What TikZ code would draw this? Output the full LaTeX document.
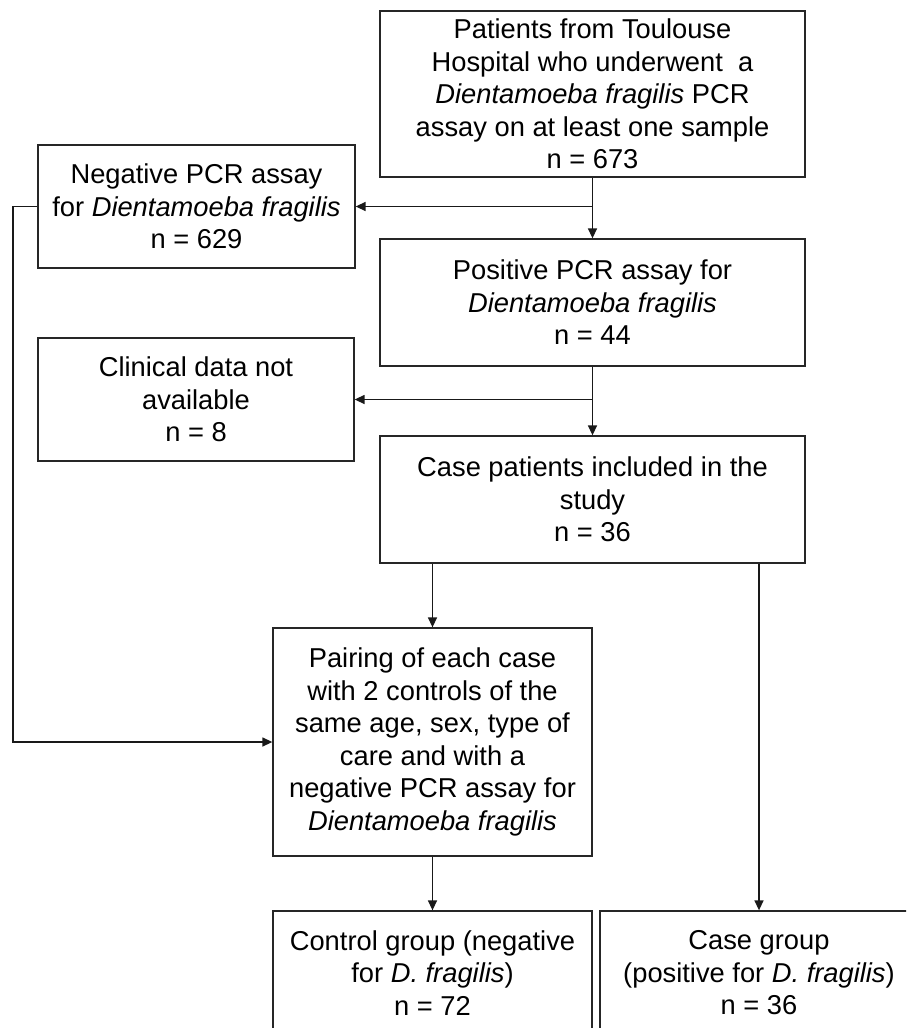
\documentclass[tikz,border=0pt]{standalone}
\usepackage{fontspec}
\setmainfont{Liberation Sans}
\usetikzlibrary{arrows.meta}
\tikzset{
  box/.style={draw=black!85, line width=1.3pt, inner sep=0pt, align=center,
    font=\fontsize{27.3pt}{32.5pt}\selectfont, fill=white},
  conn/.style={draw=black!90, line width=1.4pt},
  arr/.style={conn, -{Triangle[length=10pt,width=9pt]}}
}
\begin{document}
\begin{tikzpicture}[x=1pt,y=-1pt]
\useasboundingbox (0,0) rectangle (906,1028);
\clip (0,0) rectangle (906,1028);
\node[box, minimum width=425pt, minimum height=166pt] (top) at (592.5,94)
  {Patients from Toulouse\\Hospital who underwent~ a\\\textit{Dientamoeba fragilis} PCR\\assay on at least one sample\\n = 673};
\node[box, minimum width=317pt, minimum height=123pt] (neg) at (196.5,206.5)
  {Negative PCR assay\\for \textit{Dientamoeba fragilis}\\n = 629};
\node[box, minimum width=425pt, minimum height=127pt] (pos) at (592.5,302.5)
  {Positive PCR assay for\\\textit{Dientamoeba fragilis}\\n = 44};
\node[box, minimum width=316pt, minimum height=123pt] (clin) at (196,399.5)
  {Clinical data not\\available\\n = 8};
\node[box, minimum width=425pt, minimum height=127pt] (casep) at (592.5,499.5)
  {Case patients included in the\\study\\n = 36};
\node[box, minimum width=319pt, minimum height=228pt] (pair) at (432.5,742)
  {Pairing of each case\\with 2 controls of the\\same age, sex, type of\\care and with a\\negative PCR assay for\\\textit{Dientamoeba fragilis}};
\node[box, minimum width=319pt, minimum height=124pt] (ctrl) at (432.5,973)
  {Control group (negative\\for \textit{D. fragilis})\\n = 72};
\node[box, minimum width=318pt, minimum height=124pt] (caseg) at (759,973)
  {Case group\\(positive for \textit{D. fragilis})\\n = 36};
% connectors
\coordinate (j1) at (top.south |- neg.east);
\coordinate (j2) at (pos.south |- clin.east);
\draw[arr] (top.south) -- (pos.north);
\draw[arr] (j1) -- (neg.east);
\draw[arr] (pos.south) -- (casep.north);
\draw[arr] (j2) -- (clin.east);
\draw[arr] (casep.south -| pair.north) -- (pair.north);
\draw[arr] (casep.south -| caseg.north) -- (caseg.north);
\draw[arr] (pair.south) -- (ctrl.north);
\coordinate (l1) at (13,206.5);
\draw[arr] (neg.west) -- (l1) |- (pair.west);
\end{tikzpicture}
\end{document}
